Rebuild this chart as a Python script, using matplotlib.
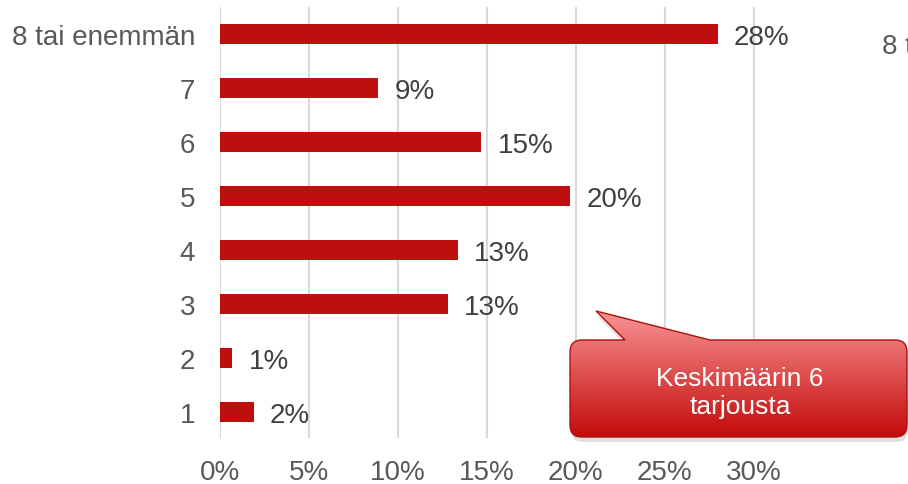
import matplotlib.pyplot as plt
import numpy as np
from matplotlib.path import Path
from matplotlib.patches import PathPatch

plt.rcParams['font.family'] = ['Liberation Sans', 'DejaVu Sans']

# data
categories = ['1', '2', '3', '4', '5', '6', '7', '8 tai enemmän']
values = [1.9, 0.7, 12.8, 13.4, 19.7, 14.7, 8.9, 28.0]
value_labels = ['2%', '1%', '13%', '13%', '20%', '15%', '9%', '28%']
x_ticks = [0, 5, 10, 15, 20, 25, 30]
callout_text = 'Keskimäärin 6\ntarjousta'

bar_color = '#BE0F0F'
text_color = '#595959'
value_color = '#404040'

fig = plt.figure(figsize=(9.08, 4.85), dpi=100)
ax = fig.add_axes([220 / 908, (485 - 439) / 485, (830 - 220) / 908, (439 - 8) / 485])

y = np.arange(len(categories))
ax.barh(y, values, height=0.37, color=bar_color, zorder=3)
for yi, v, lab in zip(y, values, value_labels):
    ax.text(v + 0.9, yi - 0.06, lab, va='center', ha='left', fontsize=20, color=value_color)

ax.set_xlim(0, 34.3)
ax.set_ylim(-0.48, 7.5)
ax.set_xticks(x_ticks)
ax.set_xticklabels([f'{t}%' for t in x_ticks], fontsize=20, color=text_color)
ax.set_yticks(y)
ax.set_yticklabels(categories, fontsize=20, color=text_color)
ax.tick_params(axis='both', length=0)
ax.tick_params(axis='x', pad=15)
ax.tick_params(axis='y', pad=18)
for x in x_ticks:
    ax.axvline(x, color='#D9D9D9', linewidth=1.5, zorder=1)
for s in ax.spines.values():
    s.set_visible(False)

# cut-off label from neighbouring chart
fig.text(882 / 908, 1 - 47 / 485, '8 tai enemmän', fontsize=20, color=text_color,
         ha='left', va='center')

# callout in pixel coordinates
ov = fig.add_axes([0, 0, 1, 1])
ov.set_xlim(0, 908)
ov.set_ylim(485, 0)
ov.axis('off')

L, R, T, B, r = 570, 907, 341, 438, 12
verts = [(625, T), (596, 312), (710, T), (R - r, T), (R, T), (R, T + r), (R, B - r),
         (R, B), (R - r, B), (L + r, B), (L, B), (L, B - r), (L, T + r), (L, T),
         (L + r, T), (625, T)]
codes = [Path.MOVETO, Path.LINETO, Path.LINETO, Path.LINETO, Path.CURVE3, Path.CURVE3,
         Path.LINETO, Path.CURVE3, Path.CURVE3, Path.LINETO, Path.CURVE3, Path.CURVE3,
         Path.LINETO, Path.CURVE3, Path.CURVE3, Path.CLOSEPOLY]
path = Path(verts, codes)

shadow = PathPatch(Path([(vx + 1, vy + 5) for vx, vy in verts], codes),
                   facecolor='#000000', alpha=0.12, edgecolor='none')
ov.add_patch(shadow)

grad = np.linspace(0, 1, 256).reshape(-1, 1)
top_c = np.array([0xF7, 0x94, 0x94]) / 255
bot_c = np.array([0xC4, 0x0A, 0x0A]) / 255
img = top_c + (bot_c - top_c) * grad[..., None]
img = img.reshape(256, 1, 3)
im = ov.imshow(img, extent=(L, R, B, 312), aspect='auto', zorder=2)
patch = PathPatch(path, facecolor='none', edgecolor='#B01010', linewidth=1.0, zorder=3)
ov.add_patch(patch)
im.set_clip_path(patch)
ov.set_xlim(0, 908)
ov.set_ylim(485, 0)

ov.text(740, 393, callout_text, ha='center', va='center', fontsize=19, color='white',
        linespacing=1.22, zorder=4)

fig.savefig('out.png', dpi=100)
